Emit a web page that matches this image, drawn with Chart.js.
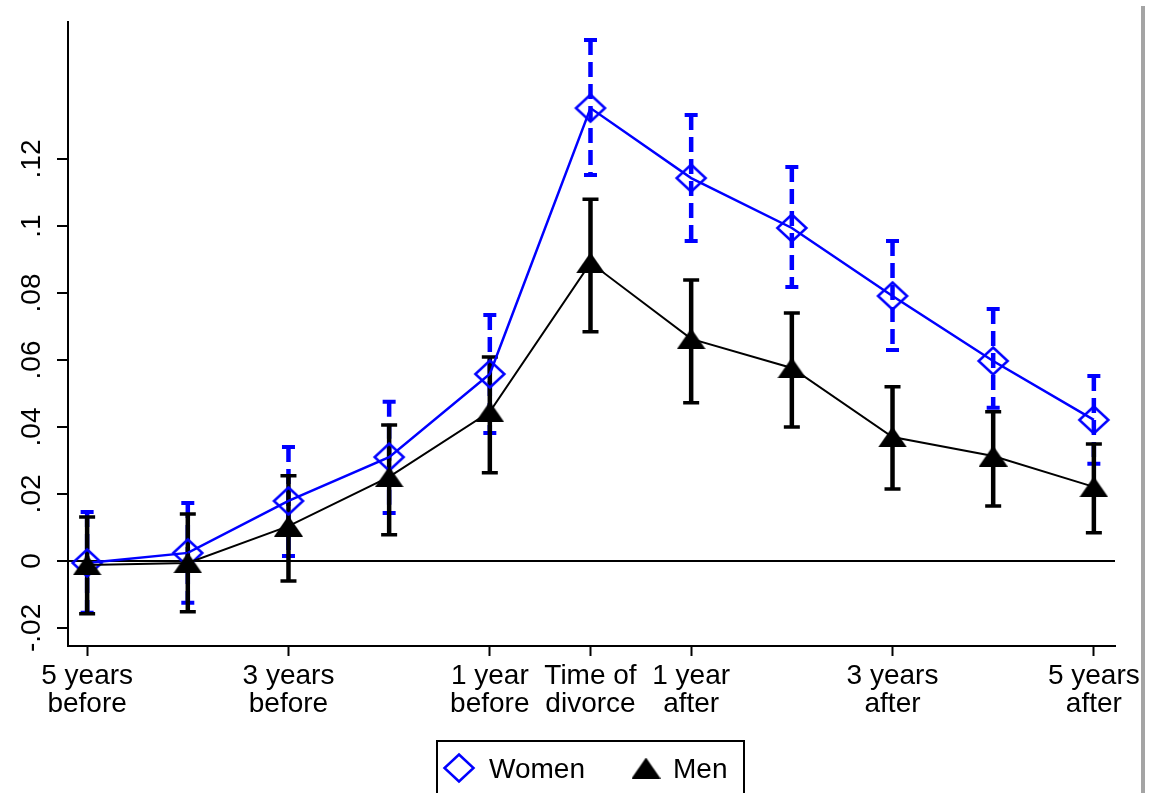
<!DOCTYPE html>
<html>
<head>
<meta charset="utf-8">
<script src="https://cdn.jsdelivr.net/npm/chart.js@4.4.1/dist/chart.umd.min.js"></script>
<style>
  html, body { margin: 0; padding: 0; background: #fff; }
  canvas { display: block; }
</style>
</head>
<body>
<canvas id="divorceChart" width="1168" height="793"></canvas>
<script>
// years relative to divorce
const periods = [-5, -4, -3, -2, -1, 0, 1, 2, 3, 4, 5];

const womenMean = [-0.0006, 0.0024, 0.0179, 0.031, 0.0558, 0.1352, 0.1143, 0.0994, 0.0791, 0.0597, 0.0421];
const womenLow  = [-0.0155, -0.0125, 0.0015, 0.0143, 0.0382, 0.1152, 0.0955, 0.0818, 0.063, 0.0457, 0.029];
const womenHigh = [0.0146, 0.0173, 0.034, 0.0475, 0.0734, 0.1555, 0.1331, 0.1176, 0.0955, 0.0752, 0.0552];

const menMean = [-0.0012, -0.0006, 0.0104, 0.0251, 0.0445, 0.089, 0.0663, 0.0576, 0.037, 0.0313, 0.0221];
const menLow  = [-0.0158, -0.0152, -0.006, 0.0078, 0.0263, 0.0684, 0.0472, 0.040, 0.0215, 0.0164, 0.0084];
const menHigh = [0.0131, 0.014, 0.0254, 0.0406, 0.0609, 0.108, 0.0839, 0.074, 0.052, 0.0445, 0.0349];

const xTickValues = [-5, -3, -1, 0, 1, 3, 5];
const xTickLabels = [
    ['5 years', 'before'], ['3 years', 'before'], ['1 year', 'before'],
    ['Time of', 'divorce'], ['1 year', 'after'], ['3 years', 'after'], ['5 years', 'after']
];
const yTickValues = [-0.02, 0, 0.02, 0.04, 0.06, 0.08, 0.1, 0.12];
const yTickLabels = ['-.02', '0', '.02', '.04', '.06', '.08', '.1', '.12'];

const BLUE = '#0000ff';
const FONT = "'Liberation Sans', Arial, sans-serif";

// marker shapes as little canvases so they can be wider than tall
function makeDiamond(w, h, color, lw) {
    const c = document.createElement('canvas');
    c.width = w + lw * 2; c.height = h + lw * 2;
    const g = c.getContext('2d');
    const cx = c.width / 2, cy = c.height / 2;
    g.strokeStyle = color; g.lineWidth = lw;
    g.beginPath();
    g.moveTo(cx, cy - h / 2); g.lineTo(cx + w / 2, cy);
    g.lineTo(cx, cy + h / 2); g.lineTo(cx - w / 2, cy);
    g.closePath(); g.stroke();
    return c;
}
function makeTriangle(w, h, color) {
    const c = document.createElement('canvas');
    c.width = w; c.height = h;
    const g = c.getContext('2d');
    g.fillStyle = color;
    g.beginPath();
    g.moveTo(w / 2, 0); g.lineTo(w, h); g.lineTo(0, h);
    g.closePath(); g.fill();
    return c;
}
const diamondImg = makeDiamond(29, 27, BLUE, 2.5);
const triangleImg = makeTriangle(29, 21, '#000');

const errorBars = {
    id: 'errorBars',
    beforeDatasetsDraw(chart) {
        const { ctx, scales: { x, y } } = chart;
        const draw = (low, high, color, barW, capHalf, capW, dash) => {
            ctx.save();
            ctx.strokeStyle = color;
            periods.forEach((p, i) => {
                const px = x.getPixelForValue(p);
                const yl = y.getPixelForValue(low[i]);
                const yh = y.getPixelForValue(high[i]);
                ctx.lineWidth = barW;
                ctx.setLineDash(dash);
                ctx.beginPath(); ctx.moveTo(px, yh); ctx.lineTo(px, yl); ctx.stroke();
                ctx.setLineDash([]);
                ctx.lineWidth = capW;
                ctx.beginPath();
                ctx.moveTo(px - capHalf, yh); ctx.lineTo(px + capHalf, yh);
                ctx.moveTo(px - capHalf, yl); ctx.lineTo(px + capHalf, yl);
                ctx.stroke();
            });
            ctx.restore();
        };
        draw(womenLow, womenHigh, BLUE, 4.5, 6.5, 4, [15, 7]);
        draw(menLow, menHigh, '#000', 4.5, 8, 3.5, []);
    }
};

const frameBits = {
    id: 'frameBits',
    afterDraw(chart) {
        const ctx = chart.ctx;
        ctx.save();
        // grey page edge on the right
        ctx.fillStyle = '#a4a4a4';
        ctx.fillRect(1141, 6, 4, 793);
        // legend box
        ctx.strokeStyle = '#000';
        ctx.lineWidth = 2;
        ctx.strokeRect(437, 741, 307, 70);
        ctx.drawImage(diamondImg, 459 - diamondImg.width / 2, 768 - diamondImg.height / 2);
        ctx.drawImage(triangleImg, 646 - triangleImg.width / 2, 768 - triangleImg.height / 2);
        ctx.fillStyle = '#000';
        ctx.font = '28px ' + FONT;
        ctx.textBaseline = 'alphabetic';
        ctx.fillText(chart.data.datasets[0].label, 489, 778);
        ctx.fillText(chart.data.datasets[1].label, 673, 778);
        ctx.restore();
    }
};

Chart.defaults.font.family = FONT;
Chart.defaults.font.size = 28;
Chart.defaults.color = '#000';

new Chart(document.getElementById('divorceChart'), {
    type: 'line',
    data: {
        datasets: [{
            label: 'Women',
            data: periods.map((p, i) => ({ x: p, y: womenMean[i] })),
            borderColor: BLUE,
            borderWidth: 2.5,
            pointStyle: diamondImg,
            pointRadius: 14,
            order: 2
        }, {
            label: 'Men',
            data: periods.map((p, i) => ({ x: p, y: menMean[i] })),
            borderColor: '#000',
            borderWidth: 2,
            pointStyle: triangleImg,
            pointRadius: 14,
            order: 1
        }]
    },
    options: {
        responsive: false,
        animation: false,
        events: [],
        layout: { padding: { top: 22, right: 53, left: 0, bottom: 0 } },
        plugins: {
            legend: { display: false },
            tooltip: { enabled: false }
        },
        scales: {
            x: {
                type: 'linear',
                min: -5.19,
                max: 5.21,
                afterBuildTicks: s => { s.ticks = xTickValues.map(v => ({ value: v })); },
                afterFit: s => {
                    s.height = 147;
                    s.paddingLeft = 0; s.paddingRight = 0;
                },
                grid: { drawOnChartArea: false, tickLength: 10, tickColor: '#000', tickWidth: 2 },
                border: { display: true, color: '#000', width: 2 },
                ticks: {
                    autoSkip: false,
                    maxRotation: 0,
                    padding: 6,
                    font: { size: 28, lineHeight: 1.0 },
                    callback: v => xTickLabels[xTickValues.indexOf(v)]
                }
            },
            y: {
                min: -0.0254,
                max: 0.1609,
                afterBuildTicks: s => { s.ticks = yTickValues.map(v => ({ value: v })); },
                afterFit: s => {
                    s.width = 68;
                    s.paddingTop = 0; s.paddingBottom = 0;
                },
                grid: {
                    color: c => (c.tick && c.tick.value === 0 ? '#000' : 'rgba(0,0,0,0)'),
                    lineWidth: 2,
                    tickLength: 11,
                    tickColor: '#000',
                    tickWidth: 2
                },
                border: { display: true, color: '#000', width: 2 },
                ticks: {
                    minRotation: 90,
                    maxRotation: 90,
                    crossAlign: 'center',
                    padding: 1,
                    font: { size: 28 },
                    callback: v => yTickLabels[yTickValues.indexOf(v)]
                }
            }
        }
    },
    plugins: [errorBars, frameBits]
});
</script>
</body>
</html>
